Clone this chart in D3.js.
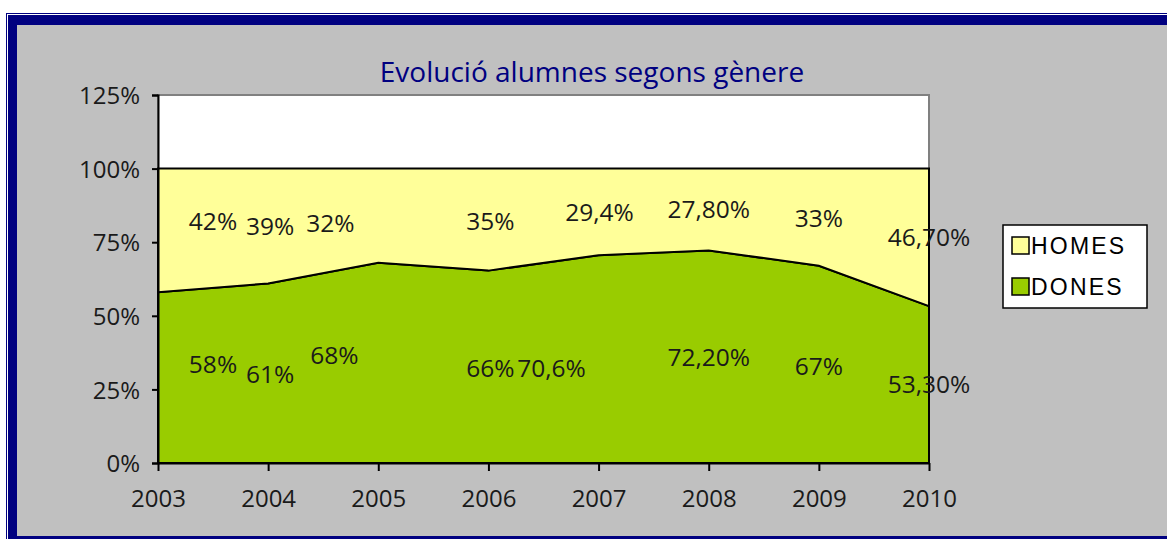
<!DOCTYPE html>
<html>
<head>
<meta charset="utf-8">
<script src="https://cdn.jsdelivr.net/npm/d3@7"></script>
<style>
  html, body { margin: 0; padding: 0; background: #ffffff; }
  svg { display: block; }
</style>
</head>
<body>
<svg id="chart" width="1167" height="539"></svg>
<script>
// ---- data ----
const years = ["2003", "2004", "2005", "2006", "2007", "2008", "2009", "2010"];
const dones = [58, 61, 68, 66, 70.6, 72.2, 67, 53.3];
const homes = [42, 39, 32, 35, 29.4, 27.8, 33, 46.7];
const donesLabels = ["58%", "61%", "68%", "66%", "70,6%", "72,20%", "67%", "53,30%"];
const homesLabels = ["42%", "39%", "32%", "35%", "29,4%", "27,80%", "33%", "46,70%"];
const yTicks = [0, 25, 50, 75, 100, 125];
const seriesNames = ["HOMES", "DONES"];
const title = "Evolució alumnes segons gènere";

// ---- layout / style (label nudges from band centre, px) ----
const homesNudge = [[55, -9], [2, 0], [-48, 8], [2, 2], [1, 1], [0, 0], [0, 1], [0, 0]];
const donesNudge = [[55, -13], [2, 1], [-44, -7], [2, 2], [-47, 9], [0, 1], [0, 2], [0, 0]];
const colors = { HOMES: "#ffff99", DONES: "#99cc00" };
const navy = "#000080";
const tickFont = "'Open Sans', 'Noto Sans', sans-serif";

const svg = d3.select("#chart");

// frame
svg.append("rect").attr("x", 0).attr("y", 0).attr("width", 1167).attr("height", 539).attr("fill", "#ffffff");
svg.append("rect").attr("x", 6).attr("y", 13).attr("width", 1200).attr("height", 600).attr("fill", navy);
svg.append("rect").attr("x", 7).attr("y", 14).attr("width", 1200).attr("height", 600).attr("fill", "#ffffff");
svg.append("rect").attr("x", 8).attr("y", 15).attr("width", 1200).attr("height", 600).attr("fill", navy);
svg.append("rect").attr("x", 17).attr("y", 25).attr("width", 1200).attr("height", 511).attr("fill", "#c0c0c0");

// scales
const x = d3.scalePoint().domain(years).range([158, 929]);
const y = d3.scaleLinear().domain([0, 125]).range([463, 95]);

// plot area
svg.append("rect").attr("x", 158).attr("y", 95).attr("width", 929 - 158).attr("height", 463 - 95)
  .attr("fill", "#ffffff").attr("stroke", "#808080").attr("stroke-width", 2);

const rows = years.map((yr, i) => ({ year: yr, DONES: dones[i], HOMES: homes[i] }));
// 100% stacked
const stack = d3.stack().keys(["DONES", "HOMES"]).offset(d3.stackOffsetExpand);
const layers = stack(rows);

const area = d3.area()
  .x(d => x(d.data.year))
  .y0(d => y(d[0] * 100))
  .y1(d => y(d[1] * 100));

svg.append("g").selectAll("path").data(layers).join("path")
  .attr("d", area)
  .attr("fill", d => colors[d.key])
  .attr("stroke", "#000")
  .attr("stroke-width", 2)
  .attr("stroke-linejoin", "miter");

// axes
const yAxis = d3.axisLeft(y).tickValues(yTicks).tickFormat(d => d + "%").tickSize(6).tickPadding(12);
const gy = svg.append("g").attr("transform", "translate(158,0)").call(yAxis);
gy.select(".domain").attr("stroke", "#000").attr("stroke-width", 2);
gy.selectAll(".tick line").attr("stroke", "#000").attr("stroke-width", 2);
gy.selectAll("text").attr("font-family", tickFont).attr("font-size", 24).attr("fill", "#1a1a1a").attr("dy", "0.36em");

const xAxis = d3.axisBottom(x).tickSize(8).tickPadding(19).tickSizeOuter(0);
const gx = svg.append("g").attr("transform", "translate(0,463)").call(xAxis);
gx.select(".domain").attr("stroke", "#000").attr("stroke-width", 2);
gx.selectAll(".tick line").attr("stroke", "#000").attr("stroke-width", 2);
gx.selectAll("text").attr("font-family", tickFont).attr("font-size", 24).attr("fill", "#1a1a1a");

// data labels
const labelG = svg.append("g").attr("font-family", tickFont).attr("font-size", 24.5).attr("fill", "#1a1a1a").attr("text-anchor", "middle");
layers.forEach(layer => {
  const labels = layer.key === "HOMES" ? homesLabels : donesLabels;
  const nudge = layer.key === "HOMES" ? homesNudge : donesNudge;
  labelG.append("g").selectAll("text").data(layer).join("text")
    .attr("x", (d, i) => x(d.data.year) + nudge[i][0])
    .attr("y", (d, i) => y((d[0] + d[1]) * 50) + nudge[i][1])
    .attr("dy", "0.35em")
    .text((d, i) => labels[i]);
});

// title
svg.append("text").attr("x", 592).attr("y", 82).attr("text-anchor", "middle")
  .attr("font-family", tickFont).attr("font-size", 28).attr("fill", navy).text(title);

// legend
const lg = svg.append("g").attr("transform", "translate(1003,225)");
lg.append("rect").attr("x", 0).attr("y", 0).attr("width", 144).attr("height", 83)
  .attr("fill", "#ffffff").attr("stroke", "#000").attr("stroke-width", 1.5);
seriesNames.forEach((name, i) => {
  const yy = 12 + i * 41;
  lg.append("rect").attr("x", 9).attr("y", yy).attr("width", 17).attr("height", 17)
    .attr("fill", colors[name]).attr("stroke", "#000").attr("stroke-width", 1.5);
  lg.append("text").attr("x", 28).attr("y", yy + 17).attr("font-family", "'Liberation Sans', Arial, sans-serif")
    .attr("font-size", 23).attr("letter-spacing", 2.2).attr("fill", "#000").text(name);
});
</script>
</body>
</html>
